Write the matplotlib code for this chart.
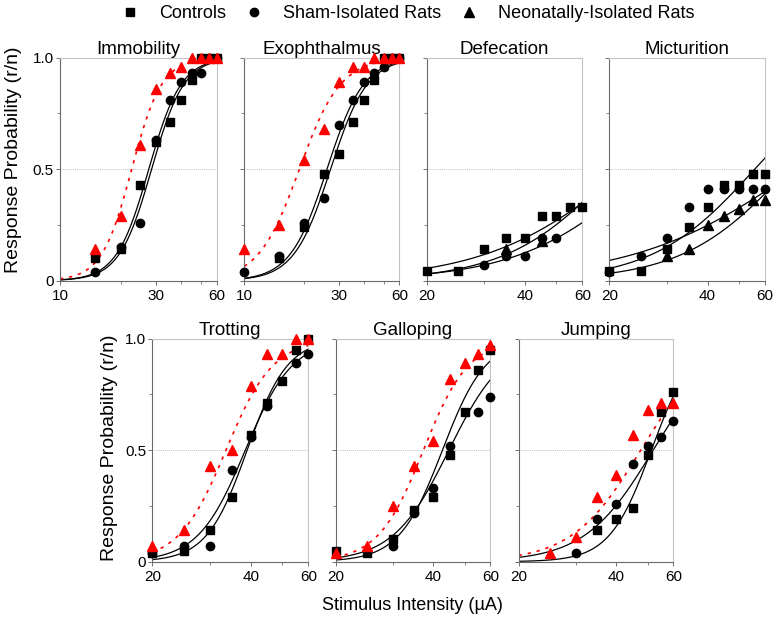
import numpy as np
import matplotlib
matplotlib.use('Agg')
import matplotlib.pyplot as plt
from matplotlib.lines import Line2D
from matplotlib.ticker import FixedLocator, FixedFormatter, NullFormatter

plt.rcParams['font.family'] = ['Liberation Sans', 'DejaVu Sans']

nan = np.nan

# stimulus intensities (uA)
X_10_60 = [10, 15, 20, 25, 30, 35, 40, 45, 50, 55, 60]
X_20_60 = [20, 25, 30, 35, 40, 45, 50, 55, 60]

GROUPS = ['Controls', 'Sham-Isolated Rats', 'Neonatally-Isolated Rats']

# response probabilities (nan = not visible)
imm_ctrl = [nan, 0.10, 0.14, 0.43, 0.62, 0.71, 0.81, 0.90, 1.0, 1.0, 1.0]
imm_sham = [nan, 0.04, 0.15, 0.26, 0.63, 0.81, 0.89, 0.93, 0.93, 1.0, 1.0]
imm_neo = [nan, 0.14, 0.29, 0.61, 0.86, 0.93, 0.96, 1.0, 1.0, 1.0, 1.0]

exo_ctrl = [nan, 0.10, 0.24, 0.48, 0.57, 0.71, 0.81, 0.90, 1.0, 1.0, 1.0]
exo_sham = [0.04, 0.11, 0.26, 0.37, 0.70, 0.81, 0.89, 0.93, 0.96, 1.0, 1.0]
exo_neo = [0.14, 0.25, 0.54, 0.68, 0.89, 0.96, 0.96, 1.0, 1.0, 1.0, 1.0]

def_ctrl = [0.045, 0.045, 0.14, 0.19, 0.19, 0.29, 0.29, 0.33, 0.33]
def_sham = [nan, nan, 0.07, 0.11, 0.11, 0.19, 0.19, nan, nan]
def_neo = [nan, nan, nan, 0.14, nan, 0.18, nan, nan, nan]

mic_ctrl = [0.045, 0.045, 0.14, 0.24, 0.33, 0.43, 0.43, 0.48, 0.48]
mic_sham = [0.037, 0.11, 0.19, 0.33, 0.41, 0.41, 0.41, 0.41, 0.41]
mic_neo = [nan, nan, 0.11, 0.14, 0.25, 0.29, 0.32, 0.36, 0.36]

tro_ctrl = [0.04, 0.05, 0.14, 0.29, 0.57, 0.71, 0.81, 0.95, 1.0]
tro_sham = [0.04, 0.07, 0.07, 0.41, 0.56, 0.70, nan, 0.89, 0.93]
tro_neo = [0.07, 0.14, 0.43, 0.50, 0.79, 0.93, 0.93, 1.0, 1.0]

gal_ctrl = [0.05, 0.04, 0.10, 0.23, 0.29, 0.48, 0.67, 0.86, 0.95]
gal_sham = [nan, nan, 0.07, 0.22, 0.33, 0.52, nan, 0.67, 0.74]
gal_neo = [0.04, 0.07, 0.25, 0.43, 0.54, 0.82, 0.89, 0.93, 0.97]

jmp_ctrl = [nan, nan, nan, 0.14, 0.19, 0.24, 0.48, 0.67, 0.76]
jmp_sham = [nan, nan, 0.04, 0.19, 0.26, 0.44, 0.52, 0.56, 0.63]
jmp_neo = [nan, 0.04, 0.11, 0.29, 0.39, 0.57, 0.68, 0.71, 0.71]

# fitted dose-response curves: (ED50 in uA, slope in ln-units) for ctrl, sham, neo
imm_fit = [(28.5, 5.4), (27.6, 5.4), (22.7, 5.8)]
exo_fit = [(27.1, 4.7), (26.0, 4.7), (18.9, 4.2)]
def_fit = [(82.0, 2.01), (96.0, 2.22), (76.0, 2.60)]
mic_fit = [(55.8, 2.77), (75.8, 1.73), (70.9, 2.67)]
tro_fit = [(39.0, 7.0), (38.5, 6.0), (33.6, 6.0)]
gal_fit = [(42.7, 6.46), (44.7, 5.05), (37.3, 6.2)]
jmp_fit = [(51.3, 6.72), (52.0, 4.12), (47.6, 4.09)]


def logistic(x, ed50, k):
    return 1.0 / (1.0 + np.exp(-k * (np.log(x) - np.log(ed50))))


W, H = 778, 621
fig = plt.figure(figsize=(W / 100, H / 100), dpi=100)


def px_axes(left, top, right, bottom):
    return fig.add_axes([left / W, 1 - bottom / H, (right - left) / W, (bottom - top) / H])


# title, pixel box, x data, data, fits, neo in red?, show y labels
panels = [
    ('Immobility', (60, 57.7, 216.7, 280.7), X_10_60, (imm_ctrl, imm_sham, imm_neo), imm_fit, True, True),
    ('Exophthalmus', (244.3, 57.7, 399.3, 280.7), X_10_60, (exo_ctrl, exo_sham, exo_neo), exo_fit, True, False),
    ('Defecation', (426.7, 57.7, 582.3, 280.7), X_20_60, (def_ctrl, def_sham, def_neo), def_fit, False, False),
    ('Micturition', (609.3, 57.7, 765, 280.7), X_20_60, (mic_ctrl, mic_sham, mic_neo), mic_fit, False, False),
    ('Trotting', (152.3, 338.7, 308.3, 561.7), X_20_60, (tro_ctrl, tro_sham, tro_neo), tro_fit, True, True),
    ('Galloping', (335.7, 338.7, 490.3, 561.7), X_20_60, (gal_ctrl, gal_sham, gal_neo), gal_fit, True, False),
    ('Jumping', (518.7, 338.7, 673.3, 561.7), X_20_60, (jmp_ctrl, jmp_sham, jmp_neo), jmp_fit, True, False),
]

markers = ['s', 'o', '^']
msizes = [5.5, 6, 6.5]

for title, box, xs, ys, fits, neo_red, ylab in panels:
    ax = px_axes(*box)
    x0, x1 = xs[0], xs[-1]
    ax.set_xscale('log')
    ax.set_xlim(x0, x1)
    ax.set_ylim(0, 1)

    ax.axhline(0.5, color='#a8a8a8', lw=0.6, ls=(0, (1, 1.5)), zorder=1)

    xc = np.geomspace(x0, x1, 300)
    for g, (ed50, k) in enumerate(fits):
        if g == 2 and neo_red:
            ax.plot(xc, logistic(xc, ed50, k), color='red', lw=1.2, ls=(0, (2, 3.5)), zorder=2)
        else:
            ax.plot(xc, logistic(xc, ed50, k), color='black', lw=0.9, zorder=2)

    for g in range(3):
        col = 'red' if (g == 2 and neo_red) else 'black'
        ax.plot(xs, ys[g], ls='none', marker=markers[g], ms=msizes[g], color=col,
                mec=col, clip_on=False, zorder=3 + g)

    if x0 == 10:
        ax.xaxis.set_major_locator(FixedLocator([10, 30, 60]))
        ax.xaxis.set_major_formatter(FixedFormatter(['10', '30', '60']))
        ax.xaxis.set_minor_locator(FixedLocator([20, 40, 50]))
    else:
        ax.xaxis.set_major_locator(FixedLocator([20, 40, 60]))
        ax.xaxis.set_major_formatter(FixedFormatter(['20', '40', '60']))
        ax.xaxis.set_minor_locator(FixedLocator([30, 50]))
    ax.xaxis.set_minor_formatter(NullFormatter())

    ax.yaxis.set_major_locator(FixedLocator([0, 0.5, 1.0]))
    ax.yaxis.set_minor_locator(FixedLocator([0.25, 0.75]))
    if ylab:
        ax.yaxis.set_major_formatter(FixedFormatter(['0', '0.5', '1.0']))
    else:
        ax.yaxis.set_major_formatter(NullFormatter())

    ax.tick_params(axis='both', which='major', labelsize=11, length=3, width=0.7, color='#707070')
    ax.tick_params(axis='x', which='major', pad=3)
    ax.tick_params(axis='y', which='major', pad=1.5)
    ax.tick_params(axis='both', which='minor', length=2, width=0.6, color='#707070')

    for side in ('left', 'bottom'):
        ax.spines[side].set_color('#6a6a6a')
        ax.spines[side].set_linewidth(0.8)
    for side in ('top', 'right'):
        ax.spines[side].set_color('#c4c4c4')
        ax.spines[side].set_linewidth(0.8)

    ax.set_title(title, fontsize=13.5, pad=2)

fig.text(14 / W, 1 - 160 / H, 'Response Probability (r/n)', rotation=90,
         ha='center', va='center', fontsize=14)
fig.text(109 / W, 1 - 448 / H, 'Response Probability (r/n)', rotation=90,
         ha='center', va='center', fontsize=14)
fig.text(412.8 / W, 1 - 605 / H, 'Stimulus Intensity (µA)', ha='center', va='center', fontsize=13)

handles = [Line2D([], [], ls='none', marker=m, ms=s, color='black') for m, s in zip(markers, msizes)]
fig.legend(handles, GROUPS, loc='center', bbox_to_anchor=(408 / W, 1 - 14 / H), ncol=3,
           frameon=False, fontsize=13, handlelength=1.0, handletextpad=1.1, columnspacing=1.05,
           borderaxespad=0, borderpad=0)

fig.savefig('out.png', dpi=100)
